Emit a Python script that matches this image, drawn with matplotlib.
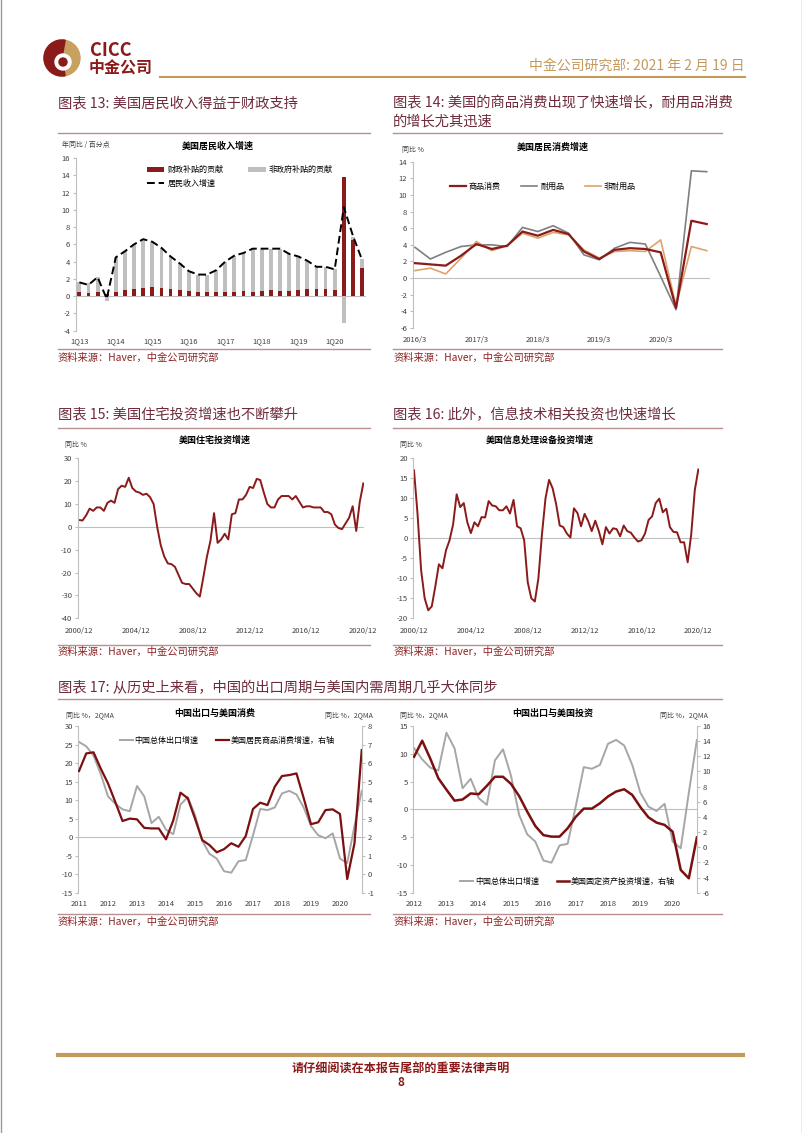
import numpy as np
import matplotlib
matplotlib.use('Agg')
import matplotlib.pyplot as plt
from matplotlib.patches import Circle, Wedge

plt.rcParams['font.family'] = ['Noto Sans CJK SC', 'DejaVu Sans']
plt.rcParams['axes.unicode_minus'] = False

# ---------------- 数据 ----------------
# 图表13 美国居民收入增速 (1Q13-4Q20)
q13_ticks = ['1Q13', '1Q14', '1Q15', '1Q16', '1Q17', '1Q18', '1Q19', '1Q20']
fiscal_contrib = [0.45, 0.4, 0.45, 0.3, 0.5, 0.7, 0.8, 1.0, 1.05, 0.95, 0.8, 0.7, 0.55, 0.45, 0.45, 0.5,
                  0.5, 0.45, 0.55, 0.5, 0.65, 0.7, 0.65, 0.65, 0.75, 0.8, 0.8, 0.8, 0.75, 13.8, 6.5, 3.3]
nongov_contrib = [1.15, 1.1, 1.75, -0.6, 4.0, 4.5, 5.2, 5.6, 5.25, 4.65, 3.8, 3.1, 2.35, 2.05, 2.05, 2.5,
                  3.5, 4.25, 4.45, 5.0, 4.85, 4.8, 4.85, 4.25, 3.85, 3.3, 2.6, 2.6, 2.35, -3.1, 0.4, 1.0]
income_growth = [1.6, 1.3, 2.2, -0.3, 4.5, 5.2, 6.0, 6.6, 6.3, 5.6, 4.6, 3.8, 2.9, 2.5, 2.5, 3.0,
                 4.0, 4.7, 5.0, 5.5, 5.5, 5.5, 5.5, 4.9, 4.6, 4.1, 3.4, 3.4, 3.1, 10.3, 7.0, 4.2]

# 图表14 美国居民消费增速 (2016Q1-2020Q4)
q14_ticks = ['2016/3', '2017/3', '2018/3', '2019/3', '2020/3']
goods = [1.8, 1.65, 1.5, 2.7, 4.1, 3.5, 3.9, 5.6, 5.1, 5.8, 5.3, 3.2, 2.3, 3.4, 3.6, 3.5, 3.1, -3.6, 6.9, 6.5]
durable = [3.7, 2.3, 3.1, 3.8, 4.0, 4.0, 3.8, 6.1, 5.6, 6.3, 5.4, 2.8, 2.2, 3.6, 4.3, 4.1, 0.2, -3.8, 12.9, 12.8]
nondurable = [0.9, 1.2, 0.5, 2.4, 4.4, 3.3, 3.9, 5.4, 4.8, 5.5, 5.2, 3.4, 2.4, 3.2, 3.3, 3.2, 4.6, -3.3, 3.8, 3.3]

# 图表15/16 (2000Q4-2020Q4)
q15_ticks = ['2000/12', '2004/12', '2008/12', '2012/12', '2016/12', '2020/12']
resi_inv = [3, 2.8, 5, 8, 7, 8.5, 8.5, 7, 10.5, 11.5, 10.5, 16.5, 18, 17.5, 21.5, 17, 15.5, 15, 14, 14.5,
            13, 10, 0, -8, -13, -16, -16.3, -17.5, -21, -24.5, -25, -25, -27, -29, -30.5, -22, -13, -6, 6, -7,
            -5.5, -3, -5.5, 5.5, 6, 12, 12, 14, 17.5, 17, 21, 20.5, 15, 10, 8.5, 8.5, 12, 13.5, 13.5, 13.5,
            12, 13.5, 11, 8.5, 9, 9, 8.5, 8.5, 8.5, 6.5, 6.5, 5.5, 1, -0.5, -1, 1.5, 4, 9, -1.8, 11, 19]
info_inv = [17, 6, -8, -15, -18, -17, -12, -6.5, -7.5, -3, -0.5, 3.5, 11, 7.8, 8.8, 4, 1.3, 4, 3, 5.3,
            5.2, 9.3, 8.2, 8, 7, 7, 8, 6.2, 9.6, 3, 2.5, -0.5, -11, -15, -15.8, -10, 1, 10, 14.6, 12.5,
            8.5, 3.2, 2.8, 1.2, 0.2, 7.5, 6.3, 3, 6.1, 4.3, 1.8, 4.4, 1.8, -1.5, 2.8, 1.2, 2.5, 2.3, 0.5, 3.2,
            1.8, 1.4, 0.2, -0.8, -0.5, 1.2, 4.6, 5.5, 8.8, 9.9, 6.5, 7.4, 2.8, 1.6, 1.5, -1, -1, -6, 1, 12, 17.2]

# 图表17 (2011Q1-2020Q4), 2QMA
cn_export = [25.7, 24.5, 22, 17, 11, 9, 7.5, 7, 13.8, 11, 3.8, 5.5, 2, 0.8, 8.8, 10.8, 6, -1, -4.5, -5.8,
             -9.2, -9.6, -6.5, -6.2, 0.5, 7.6, 7.3, 8, 11.8, 12.5, 11.5, 8, 3, 0.5, -0.3, 1, -5.8, -7, 3, 12.5]
us_goods = [5.57, 6.52, 6.58, 5.7, 4.9, 3.9, 2.87, 3.0, 2.96, 2.5, 2.47, 2.47, 1.88, 2.9, 4.4, 4.1, 3.0, 1.84,
            1.57, 1.18, 1.35, 1.67, 1.48, 2.06, 3.52, 3.86, 3.73, 4.72, 5.3, 5.35, 5.44, 4.1, 2.7, 2.8, 3.46,
            3.5, 3.25, -0.26, 1.66, 6.7]
years_l = ['2011', '2012', '2013', '2014', '2015', '2016', '2017', '2018', '2019', '2020']
# 2012Q1-2020Q4
us_fixed_inv = [11.95, 14.06, 11.7, 9.1, 7.6, 6.15, 6.3, 7.1, 7.0, 8.1, 9.3, 9.3, 8.35, 6.75, 4.7, 2.8,
                1.6, 1.4, 1.4, 2.5, 4.0, 5.1, 5.1, 5.8, 6.7, 7.35, 7.65, 6.9, 5.3, 3.95, 3.25, 2.95,
                2.05, -3.0, -4.1, 1.3]
years_r = ['2012', '2013', '2014', '2015', '2016', '2017', '2018', '2019', '2020']

# ---------------- 颜色 ----------------
RED = '#8B1A1A'
GRAY = '#BFBFBF'
DGRAY = '#7F7F7F'
TAN = '#DDA36B'
AXC = '#BFBFBF'
TITLE_C = '#6E2B3B'
SEP_C = '#B89090'
GOLD = '#C49A5A'
TXT = '#404040'
FS = 5.5
LFS = 5.8

fig = plt.figure(figsize=(8.02, 11.33), dpi=100)
page = fig.add_axes([0, 0, 1, 1])
page.set_xlim(0, 802)
page.set_ylim(1133, 0)
page.axis('off')


def box(x0, y0, x1, y1):
    ax = fig.add_axes([x0 / 802, 1 - y1 / 1133, (x1 - x0) / 802, (y1 - y0) / 1133])
    ax.set_facecolor('none')
    return ax


def style(ax, pad=4):
    for s in ['top', 'bottom', 'right']:
        ax.spines[s].set_visible(False)
    ax.spines['left'].set_color(AXC)
    ax.tick_params(axis='x', length=0, labelsize=FS, colors=TXT, pad=pad)
    ax.tick_params(axis='y', length=2, color=AXC, labelsize=FS, labelcolor=TXT, pad=2)
    ax.axhline(0, color=AXC, lw=0.8, zorder=1)


# ---------------- 页眉 ----------------
page.add_patch(Circle((62, 58), 18, color='#C8A060'))
page.add_patch(Wedge((62, 58), 18, 80, 280, color=RED))
page.add_patch(Circle((63, 62), 8, color='white'))
page.add_patch(Circle((63, 62), 4, color=RED))
page.text(90, 50, 'CICC', fontsize=13, fontweight='bold', color=RED, va='center')
page.text(89, 68, '中金公司', fontsize=11.5, fontweight='bold', color=RED, va='center')
page.text(745, 66, '中金公司研究部: 2021 年 2 月 19 日', fontsize=10, color=GOLD,
          ha='right', va='center')
page.plot([160, 745], [77, 77], color=GOLD, lw=1.5)
page.plot([0.5, 0.5], [0, 1133], color='#999999', lw=1)
page.plot([801.5, 801.5], [0, 1133], color='#999999', lw=1)

# 章节标题
tk = dict(fontsize=10.3, color=TITLE_C, va='center')
page.text(58, 103, '图表 13: 美国居民收入得益于财政支持', **tk)
page.text(393, 103, '图表 14: 美国的商品消费出现了快速增长，耐用品消费', **tk)
page.text(393, 122, '的增长尤其迅速', **tk)
page.text(58, 415, '图表 15: 美国住宅投资增速也不断攀升', **tk)
page.text(393, 415, '图表 16: 此外，信息技术相关投资也快速增长', **tk)
page.text(58, 688, '图表 17: 从历史上来看，中国的出口周期与美国内需周期几乎大体同步', **tk)
for y, segs in [(133, [(58, 370), (393, 722)]), (428, [(58, 370), (393, 722)]), (699, [(58, 722)]),
                (349, [(58, 370), (393, 722)]), (645, [(58, 370), (393, 722)]), (914, [(58, 370), (393, 722)])]:
    for a, b in segs:
        page.plot([a, b], [y, y], color=SEP_C, lw=1)
for x in [58, 393]:
    for y in [358, 652, 922]:
        page.text(x, y, '资料来源：Haver，中金公司研究部', fontsize=7.4, color='#8B2323',
                  va='center', style='italic')

# 图内标题
ct = dict(fontsize=6.5, fontweight='bold', color='black', ha='center', va='center')
page.text(218, 146, '美国居民收入增速', **ct)
page.text(553, 147, '美国居民消费增速', **ct)
page.text(215, 440, '美国住宅投资增速', **ct)
page.text(540, 440, '美国信息处理设备投资增速', **ct)
page.text(215, 713, '中国出口与美国消费', **ct)
page.text(553, 713, '中国出口与美国投资', **ct)
ut = dict(fontsize=5, color=TXT, va='center')
page.text(62, 145, '年同比 / 百分点', **ut)
page.text(402, 150, '同比 %', **ut)
page.text(65, 445, '同比 %', **ut)
page.text(400, 445, '同比 %', **ut)
page.text(66, 715, '同比 %，2QMA', **ut)
page.text(373, 715, '同比 %，2QMA', ha='right', **ut)
page.text(400, 715, '同比 %，2QMA', **ut)
page.text(708, 715, '同比 %，2QMA', ha='right', **ut)

# ---------------- 图表13 ----------------
ax = box(75.7, 158, 365.7, 330.7)
x = np.arange(len(income_growth))
fis = np.array(fiscal_contrib)
ng = np.array(nongov_contrib)
ax.bar(x, fis, width=0.42, color=RED, label='财政补贴的贡献', zorder=2)
ax.bar(x, ng, width=0.42, bottom=np.where(ng >= 0, fis, 0), color=GRAY, label='非政府补贴的贡献', zorder=2)
ax.plot(x, income_growth, color='black', lw=1.4, dashes=(4, 2), label='居民收入增速', zorder=3)
ax.set_xlim(-0.4, 31.4)
ax.set_ylim(-4, 16)
ax.set_yticks(range(-4, 17, 2))
ax.set_xticks(x[::4])
ax.set_xticklabels(q13_ticks)
style(ax, pad=5)
h, l = ax.get_legend_handles_labels()
ax.legend([h[1], h[0], h[2]], [l[1], l[0], l[2]], ncol=2, frameon=False, fontsize=LFS,
          loc='upper left', bbox_to_anchor=(0.22, 1.0), handlelength=2.2, handleheight=0.6,
          columnspacing=3, labelspacing=0.6, handletextpad=0.4)

# ---------------- 图表14 ----------------
ax = box(412.7, 161.7, 709.8, 328)
x = np.arange(len(goods))
ax.plot(x, goods, color=RED, lw=1.6, label='商品消费', zorder=3)
ax.plot(x, durable, color=DGRAY, lw=1.2, label='耐用品', zorder=2)
ax.plot(x, nondurable, color=TAN, lw=1.2, label='非耐用品', zorder=2)
ax.set_xlim(-0.15, 19.2)
ax.set_ylim(-6, 14)
ax.set_yticks(range(-6, 15, 2))
ax.set_xticks(x[::4])
ax.set_xticklabels(q14_ticks)
style(ax, pad=6)
ax.legend(ncol=3, frameon=False, fontsize=LFS, loc='upper left', bbox_to_anchor=(0.1, 0.92),
          handlelength=2, columnspacing=2.5, handletextpad=0.4)

# ---------------- 图表15 ----------------
ax = box(77.7, 458.3, 364.4, 618.3)
x = np.arange(len(resi_inv))
ax.plot(x, resi_inv, color=RED, lw=1.4)
ax.set_xlim(-0.36, 80.3)
ax.set_ylim(-40, 30)
ax.set_yticks(range(-40, 31, 10))
ax.set_xticks(x[::16])
ax.set_xticklabels(q15_ticks)
style(ax, pad=6)

# ---------------- 图表16 ----------------
ax = box(413.3, 458.3, 699.4, 618.3)
x = np.arange(len(info_inv))
ax.plot(x, info_inv, color=RED, lw=1.4)
ax.set_xlim(-0.2, 80.3)
ax.set_ylim(-20, 20)
ax.set_yticks(range(-20, 21, 5))
ax.set_xticks(x[::16])
ax.set_xticklabels(q15_ticks)
style(ax, pad=6)

# ---------------- 图表17 左 ----------------
ax = box(78.3, 726, 362.3, 892.7)
x = np.arange(len(cn_export))
ax.plot(x, cn_export, color='#A6A6A6', lw=1.4, label='中国总体出口增速')
ax.set_xlim(-0.1, 39.08)
ax.set_ylim(-15, 30)
ax.set_yticks(range(-15, 31, 5))
ax.set_xticks(x[::4])
ax.set_xticklabels(years_l)
style(ax, pad=5)
ax2 = ax.twinx()
ax2.plot(x, us_goods, color='#7B1010', lw=1.6, label='美国居民商品消费增速，右轴')
ax2.set_ylim(-1, 8)
ax2.set_yticks(range(-1, 9))
for s in ['top', 'bottom', 'left']:
    ax2.spines[s].set_visible(False)
ax2.spines['right'].set_color(AXC)
ax2.tick_params(axis='y', length=2, color=AXC, labelsize=FS, labelcolor=TXT, pad=2)
ax2.legend(ax.get_lines()[:1] + ax2.get_lines(), ['中国总体出口增速', '美国居民商品消费增速，右轴'],
           ncol=2, frameon=False, fontsize=LFS, loc='upper left', bbox_to_anchor=(0.12, 0.985),
           handlelength=1.6, columnspacing=2.2, handletextpad=0.2)

# ---------------- 图表17 右 ----------------
ax = box(413.3, 726, 697.3, 892.7)
x = np.arange(len(us_fixed_inv))
ax.plot(x, cn_export[4:], color='#A6A6A6', lw=1.4)
ax.set_xlim(-0.1, 35.05)
ax.set_ylim(-15, 15)
ax.set_yticks(range(-15, 16, 5))
ax.set_xticks(x[::4])
ax.set_xticklabels(years_r)
style(ax, pad=5)
ax2 = ax.twinx()
ax2.plot(x, us_fixed_inv, color='#7B1010', lw=1.8)
ax2.set_ylim(-6, 16)
ax2.set_yticks(range(-6, 17, 2))
for s in ['top', 'bottom', 'left']:
    ax2.spines[s].set_visible(False)
ax2.spines['right'].set_color(AXC)
ax2.tick_params(axis='y', length=2, color=AXC, labelsize=FS, labelcolor=TXT, pad=2)
ax2.legend(ax.get_lines()[:1] + ax2.get_lines(), ['中国总体出口增速', '美国固定资产投资增速，右轴'],
           ncol=2, frameon=False, fontsize=LFS, loc='lower left', bbox_to_anchor=(0.14, 0.0),
           handlelength=1.6, columnspacing=2.2, handletextpad=0.2)

# ---------------- 页脚 ----------------
page.plot([58, 743], [1055, 1055], color=GOLD, lw=3)
page.text(401, 1069, '请仔细阅读在本报告尾部的重要法律声明', fontsize=8.7, fontweight='bold',
          color=RED, ha='center', va='center')
page.text(401, 1083, '8', fontsize=8.5, fontweight='bold', color=RED, ha='center', va='center',
          style='italic')

fig.savefig('out.png', dpi=100)
